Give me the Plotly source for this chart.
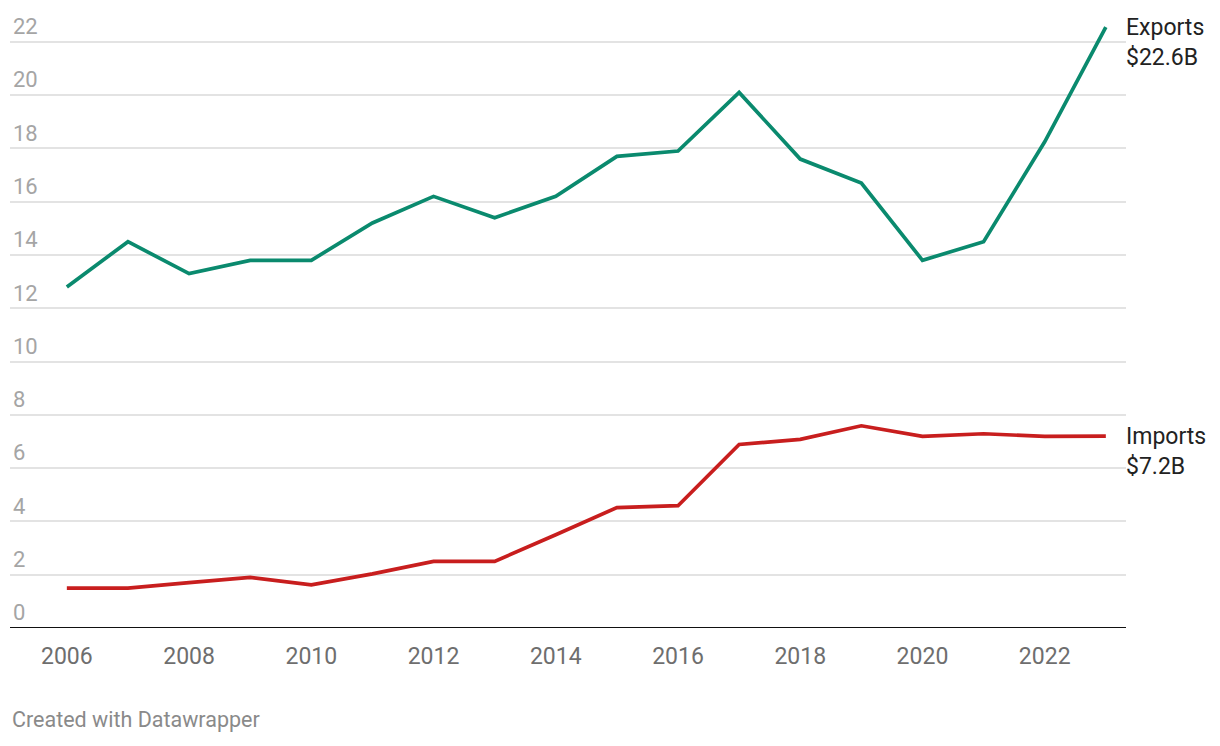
import plotly.graph_objects as go

years = list(range(2006, 2024))
exports = [12.8, 14.5, 13.3, 13.8, 13.8, 15.2, 16.2, 15.4, 16.2, 17.7, 17.9, 20.1,
           17.6, 16.7, 13.8, 14.5, 18.25, 22.55]
imports = [1.5, 1.5, 1.7, 1.9, 1.62, 2.03, 2.5, 2.5, 3.5, 4.52, 4.59, 6.89,
           7.08, 7.59, 7.19, 7.29, 7.19, 7.2]
series_names = ["Exports", "Imports"]
end_labels = ["$22.6B", "$7.2B"]
y_ticks = list(range(0, 23, 2))
x_ticks = list(range(2006, 2023, 2))
credit = "Created with Datawrapper"

colors = ["#0a8a6e", "#c81e1e"]
FONT = "Roboto"

fig = go.Figure()
for name, vals, col in zip(series_names, [exports, imports], colors):
    fig.add_trace(go.Scatter(x=years, y=vals, mode="lines", name=name,
                             line=dict(color=col, width=3.7), hoverinfo="skip"))

for name, vals, lab in zip(series_names, [exports, imports], end_labels):
    fig.add_annotation(x=years[-1], y=vals[-1], xref="x", yref="y",
                       text=f"{name}<br>{lab}", showarrow=False,
                       xanchor="left", yanchor="top", align="left",
                       xshift=18, yshift=15,
                       font=dict(family=FONT, size=23, color="#222222"))

fig.add_annotation(x=0, y=-0.148, xref="paper", yref="paper", text=credit,
                   showarrow=False, xanchor="left", yanchor="middle",
                   font=dict(family=FONT, size=21.5, color="#8a8a8a"))

fig.update_layout(
    width=1212, height=738,
    margin=dict(l=2, r=94, t=0, b=118),
    paper_bgcolor="white", plot_bgcolor="white",
    showlegend=False,
    font=dict(family=FONT),
    xaxis=dict(range=[2005.07, 2023.33], tickvals=x_ticks,
               ticktext=[str(v) for v in x_ticks],
               showgrid=False, zeroline=False, showline=False,
               ticks="", ticklabelstandoff=12,
               tickfont=dict(family=FONT, size=23, color="#6e6e6e")),
    yaxis=dict(range=[0, 23.27], tickvals=y_ticks,
               ticktext=[str(v) for v in y_ticks],
               showgrid=True, gridcolor="#e3e3e3", gridwidth=1.5,
               zeroline=False, showline=False,
               ticks="", ticklabelposition="inside top",
               tickfont=dict(family=FONT, size=22, color="#a5a5a5")),
)

fig.add_shape(type="line", xref="paper", yref="y", x0=0, x1=1, y0=0, y1=0,
              line=dict(color="#111111", width=2))

fig.write_html("out.html")
